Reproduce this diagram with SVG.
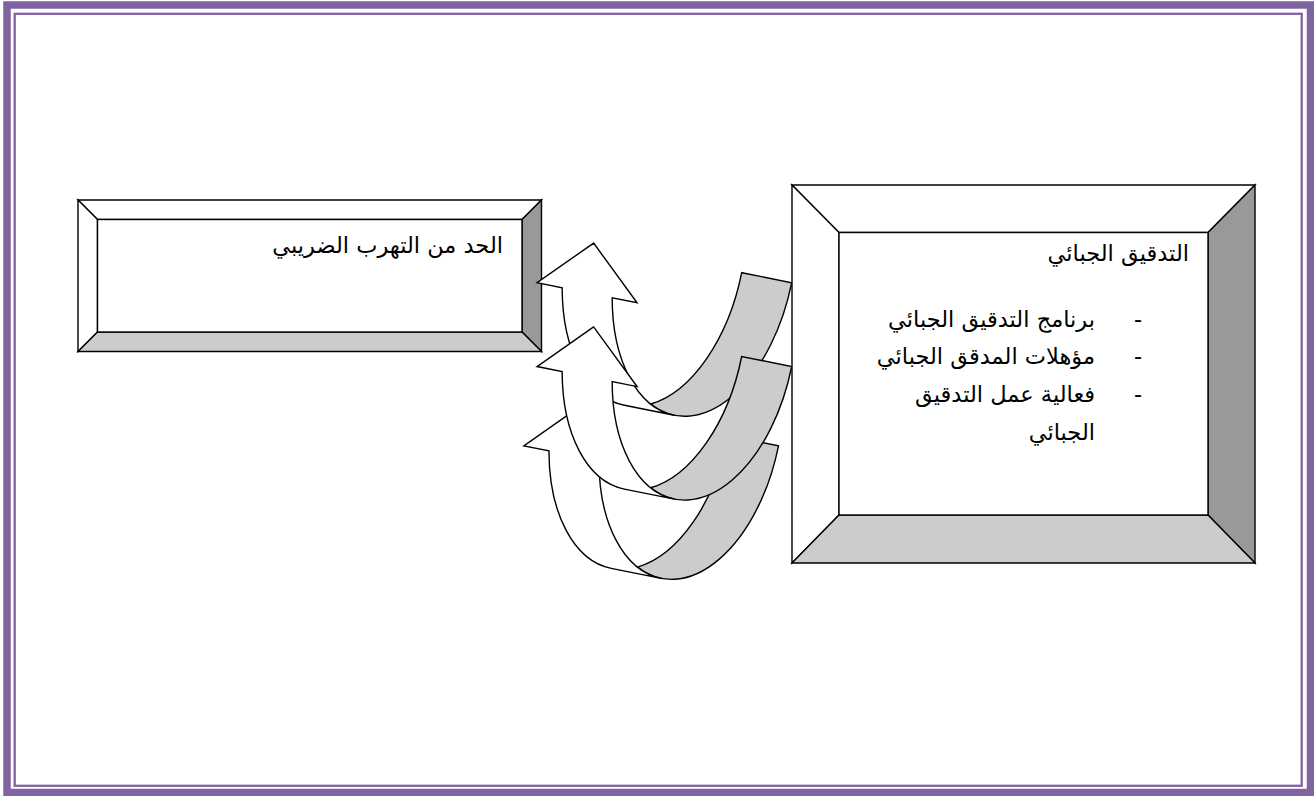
<svg xmlns="http://www.w3.org/2000/svg" xmlns:xlink="http://www.w3.org/1999/xlink" width="1314" height="796" viewBox="0 0 1314 796">
  <style>
    .ln{stroke:#000;stroke-width:1.4;stroke-linejoin:miter}
    .w{fill:#fff}
    .dk{fill:#999}
    .lt{fill:#ccc}
    .txt{font-family:"DejaVu Sans","Noto Sans",sans-serif;font-size:22.5px;fill:#000}
  </style>
  <defs>
    <g id="curvedArrow">
      <path class="ln lt" d="M0,0 A89,153 0 0 0 114.5,146.6 A89,153 0 0 1 51,0 Z"/>
      <path class="ln w" d="M202,0 L249.7,50 L224.1,50 A89,153 0 0 1 140,153 L89,153 A89,153 0 0 0 173.1,50 L147.7,50 Z"/>
    </g>
  </defs>
  <rect width="1314" height="796" fill="#fff"/>
  <g id="border" fill="none" stroke="#8064A2">
    <rect x="7" y="5" width="1303.5" height="787.5" stroke-width="7.5"/>
    <rect x="14.7" y="13.8" width="1287" height="772" stroke-width="2.3"/>
  </g>
  <g id="node-tax-evasion">
    <polygon class="ln w" points="78,200 541.5,200 522,219.5 97.5,219.5"/>
    <polygon class="ln w" points="78,200 97.5,219.5 97.5,332 78,351.5"/>
    <polygon class="ln dk" points="541.5,200 541.5,351.5 522,332 522,219.5"/>
    <polygon class="ln lt" points="78,351.5 541.5,351.5 522,332 97.5,332"/>
    <rect class="ln w" x="97.5" y="219.5" width="424.5" height="112.5"/>
    <text class="txt" x="503" y="253" text-anchor="end">الحد من التهرب الضريبي</text>
  </g>
  <g id="connectors">
    <use xlink:href="#curvedArrow" transform="translate(791.7,282.7) rotate(11.31) scale(-1,1)"/>
    <use xlink:href="#curvedArrow" transform="translate(778.5,445.8) rotate(11.31) scale(-1,1)"/>
    <use xlink:href="#curvedArrow" transform="translate(791.7,366.5) rotate(11.31) scale(-1,1)"/>
  </g>
  <g id="node-tax-audit">
    <polygon class="ln w" points="792,185 1255,185 1208,232.5 839,232.5"/>
    <polygon class="ln w" points="792,185 839,232.5 839,515 792,563"/>
    <polygon class="ln dk" points="1255,185 1255,563 1208,515 1208,232.5"/>
    <polygon class="ln lt" points="792,563 1255,563 1208,515 839,515"/>
    <rect class="ln w" x="839" y="232.5" width="369" height="282.5"/>
    <text class="txt" x="1189" y="261" text-anchor="end">التدقيق الجبائي</text>
    <text class="txt" x="1138" y="327" text-anchor="middle">-</text>
    <text class="txt" x="1095" y="327" text-anchor="end">برنامج التدقيق الجبائي</text>
    <text class="txt" x="1138" y="364" text-anchor="middle">-</text>
    <text class="txt" x="1095" y="364" text-anchor="end">مؤهلات المدقق الجبائي</text>
    <text class="txt" x="1138" y="402" text-anchor="middle">-</text>
    <text class="txt" x="1095" y="402" text-anchor="end">فعالية عمل التدقيق</text>
    <text class="txt" x="1095" y="440" text-anchor="end">الجبائي</text>
  </g>
</svg>
